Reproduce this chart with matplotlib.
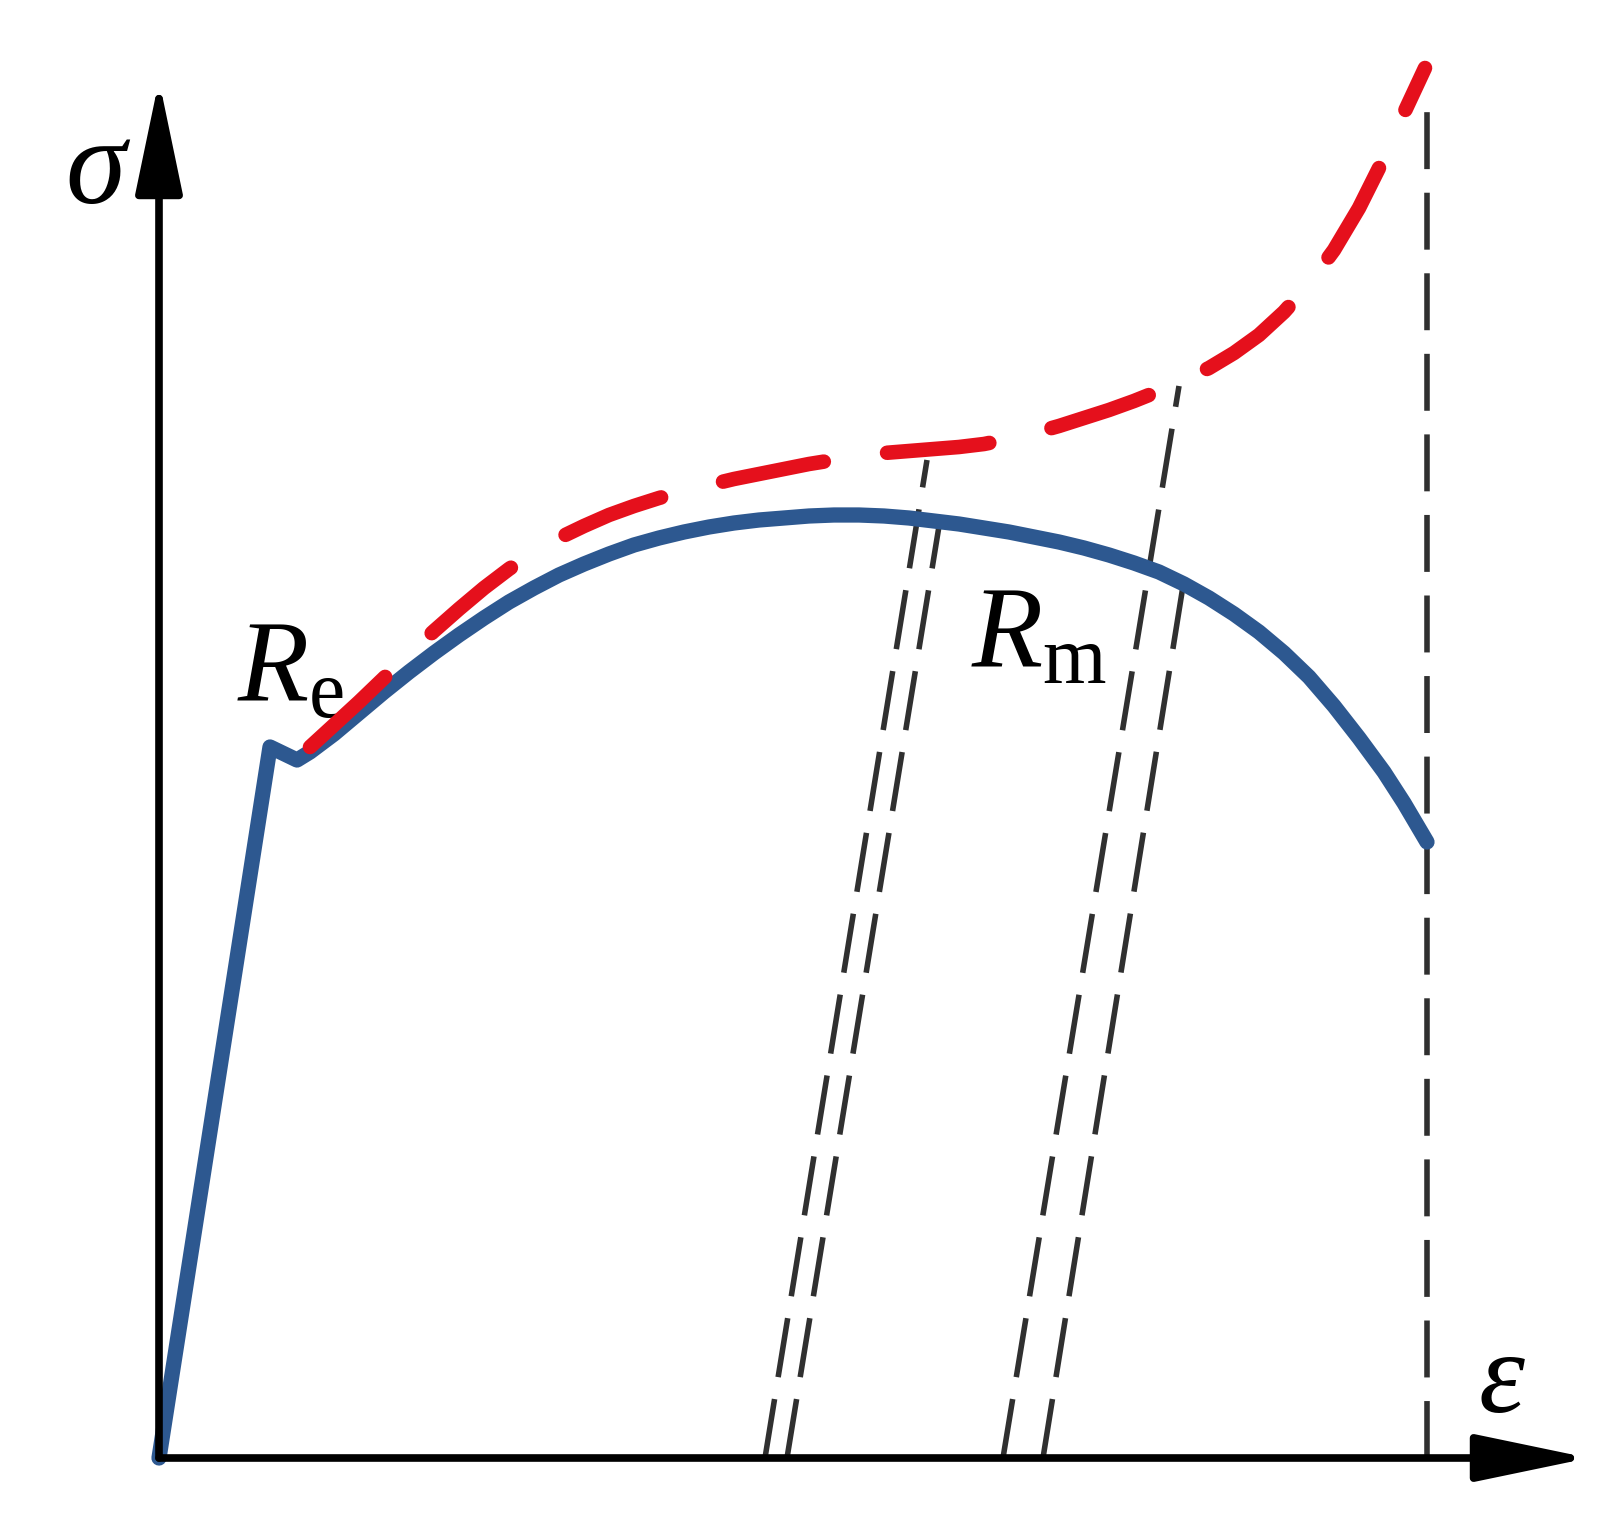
import matplotlib.pyplot as plt
import matplotlib as mpl
import numpy as np

mpl.rcParams['lines.scale_dashes'] = False
mpl.rcParams['mathtext.fontset'] = 'custom'
mpl.rcParams['mathtext.rm'] = 'Liberation Serif'
mpl.rcParams['mathtext.it'] = 'Liberation Serif:italic'

# engineering stress-strain curve (blue), arbitrary units
eng_strain = [0.0, 11.1, 13.8, 15.1, 17.5, 20.0, 22.5, 25.0, 27.5, 30.0, 32.5, 35.0,
              37.5, 40.0, 42.5, 45.0, 47.5, 50.0, 52.5, 55.0, 57.5, 60.0, 62.5, 65.0,
              67.5, 70.0, 72.5, 75.0, 77.5, 80.0, 82.5, 85.0, 87.5, 90.0, 92.5, 95.0,
              97.5, 100.0, 102.5, 105.0, 107.5, 110.0, 112.5, 115.0, 117.5, 120.0,
              122.5, 124.5, 126.8]
eng_stress = [0.0, 71.1, 69.8, 70.6, 72.4, 74.5, 76.6, 78.6, 80.5, 82.3, 84.0, 85.6,
              87.0, 88.3, 89.4, 90.4, 91.3, 92.0, 92.6, 93.1, 93.5, 93.8, 94.0, 94.2,
              94.3, 94.3, 94.2, 94.0, 93.7, 93.4, 93.0, 92.6, 92.1, 91.6, 91.0, 90.3,
              89.5, 88.6, 87.4, 86.0, 84.4, 82.6, 80.5, 78.1, 75.2, 72.0, 68.6, 65.5,
              61.6]

# true stress-strain curve (red, dashed)
true_strain = [15.1, 17.5, 20.0, 22.5, 25.0, 27.5, 30.0, 32.5, 35.0, 37.5, 40.0, 42.5,
               45.0, 47.5, 50.0, 52.5, 55.0, 57.5, 60.0, 62.5, 65.0, 67.5, 70.0, 72.5,
               75.0, 77.5, 80.0, 82.5, 85.0, 87.5, 90.0, 92.5, 95.0, 97.5, 100.0, 102.5,
               105.0, 107.5, 110.0, 112.5, 115.0, 117.5, 120.0, 122.5, 124.5, 126.6]
true_stress = [71.1, 73.3, 75.6, 78.0, 80.4, 82.7, 84.9, 87.0, 88.9, 90.6, 92.0, 93.2,
               94.3, 95.2, 96.0, 96.7, 97.3, 97.9, 98.4, 98.9, 99.4, 99.8, 100.2, 100.5,
               100.7, 100.9, 101.1, 101.4, 101.9, 102.5, 103.2, 104.0, 104.8, 105.7,
               106.7, 107.8, 109.0, 110.5, 112.3, 114.6, 117.4, 120.8, 125.0, 130.0,
               134.5, 139.0]

# unloading lines: (strain at zero stress, strain at top, stress at top)
unload_x0 = [60.6, 62.8, 84.4, 88.4]
unload_x1 = [76.8, 78.1, 102.0, 102.4]
unload_y1 = [99.8, 93.8, 107.2, 87.2]

fracture_strain = 126.8
fracture_top = 136.5
axis_x_end = 143.0
axis_y_end = 137.8

fig = plt.figure(figsize=(16.14, 15.13), dpi=100)
ax = fig.add_axes([0, 0, 1, 1])
ax.set_xlim(-15.9, 145.5)
ax.set_ylim(-5.5, 145.8)
ax.axis('off')

dash_black = '#303030'
for x0, x1, y1 in zip(unload_x0, unload_x1, unload_y1):
    ax.plot([x0, x1], [0, y1], color=dash_black, lw=4, dashes=(43, 16),
            dash_capstyle='butt', zorder=1)
ax.plot([fracture_strain, fracture_strain], [0, fracture_top], color=dash_black,
        lw=4, dashes=(41, 17), dash_capstyle='butt', zorder=1)

ax.plot(eng_strain, eng_stress, color='#2d5890', lw=11, solid_joinstyle='round',
        solid_capstyle='round', zorder=3)
ax.plot(true_strain, true_stress, color='#e5101c', lw=10.5, dashes=(74, 46),
        dash_capstyle='round', dash_joinstyle='round', zorder=4)

# axes with arrows
arrow = dict(arrowstyle='-|>,head_length=2.4,head_width=0.5', lw=5.5, color='black',
             mutation_scale=29, shrinkA=0, shrinkB=0)
ax.annotate('', xy=(axis_x_end, 0), xytext=(0, 0), arrowprops=arrow, zorder=5)
ax.annotate('', xy=(0, axis_y_end), xytext=(0, 0), arrowprops=arrow, zorder=5)

ax.text(-6.1, 125.5, r'$\sigma$', fontsize=88, ha='center', va='baseline')
ax.text(134.3, 4.6, r'$\varepsilon$', fontsize=84, ha='center', va='baseline')
ax.text(7.8, 75.6, r'$R_{\mathrm{e}}$', fontsize=84, ha='left', va='baseline')
ax.text(81.2, 79.0, r'$R_{\mathrm{m}}$', fontsize=84, ha='left', va='baseline')

fig.savefig('out.png', dpi=100, facecolor='white')
